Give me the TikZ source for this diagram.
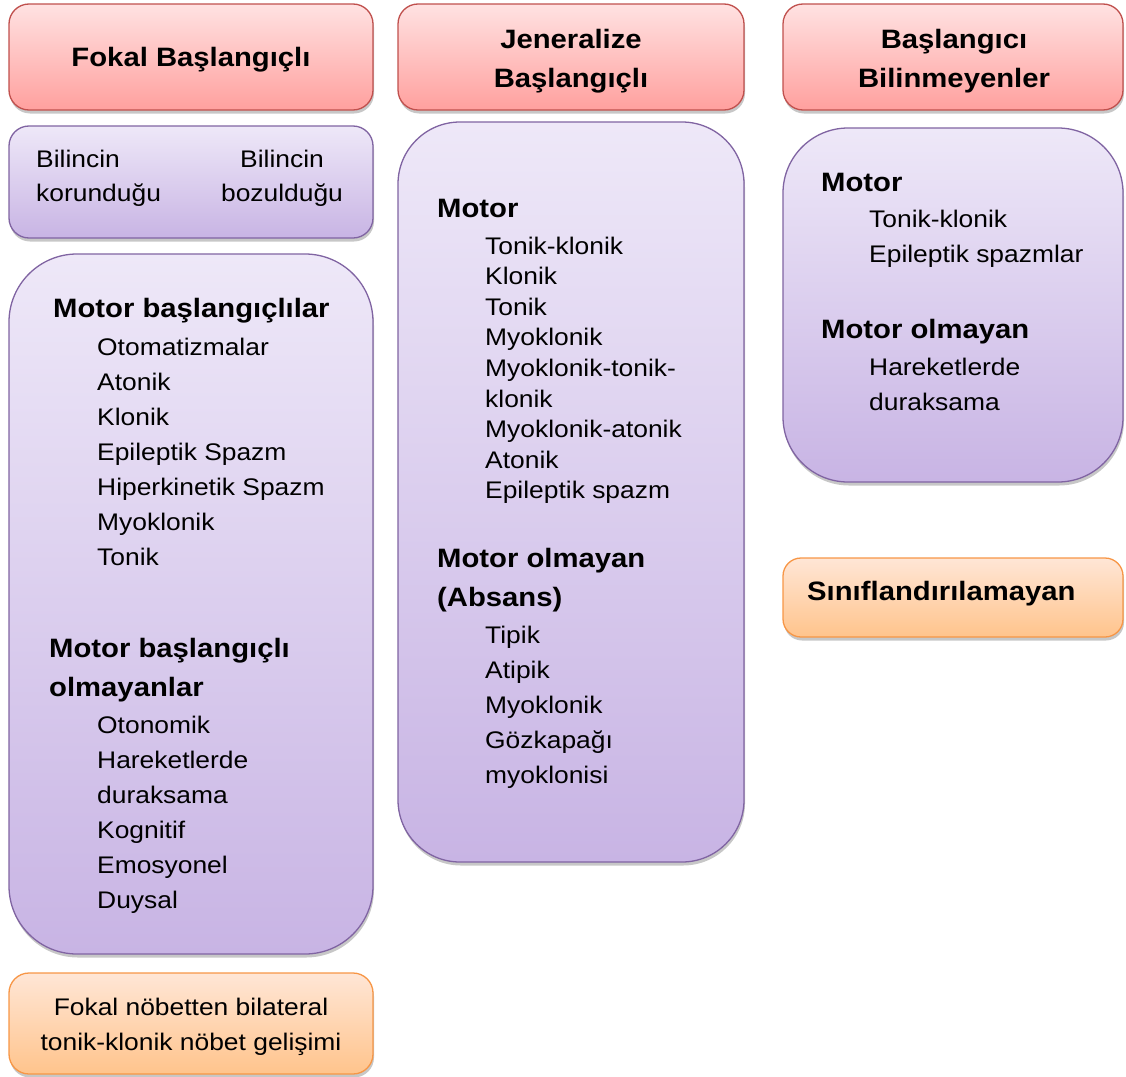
\documentclass[tikz,border=0pt]{standalone}
\usepackage{fontspec}
\setmainfont{Liberation Sans}[FakeStretch=1.1]
\usetikzlibrary{shadows}
\definecolor{redtop}{RGB}{255,226,226}
\definecolor{redbot}{RGB}{255,160,158}
\definecolor{redline}{RGB}{192,80,77}
\definecolor{purtop}{RGB}{238,232,248}
\definecolor{purbot}{RGB}{200,180,228}
\definecolor{purline}{RGB}{128,100,162}
\definecolor{orgtop}{RGB}{255,230,214}
\definecolor{orgbot}{RGB}{255,196,140}
\definecolor{orgline}{RGB}{247,150,70}
\begin{document}
\begin{tikzpicture}[x=1pt,y=-1pt,
  boxbase/.style={inner sep=0pt, outer sep=0pt, line width=1.3pt,
    drop shadow={shadow xshift=1pt, shadow yshift=-3.5pt, opacity=0.22, fill=black}},
  redbox/.style={boxbase, draw=redline, top color=redtop, bottom color=redbot, rounded corners=20pt},
  orgbox/.style={boxbase, draw=orgline, top color=orgtop, bottom color=orgbot, rounded corners=20pt},
  purbox/.style={boxbase, draw=purline, top color=purtop, bottom color=purbot},
  itm/.style={anchor=base west, inner sep=0pt, font=\fontsize{24}{29}\selectfont},
  itc/.style={anchor=base, inner sep=0pt, font=\fontsize{24}{29}\selectfont},
  hd/.style={anchor=base west, inner sep=0pt, font=\fontsize{26.6}{32}\selectfont\bfseries},
  hdc/.style={anchor=base, inner sep=0pt, font=\fontsize{26.6}{32}\selectfont\bfseries}]
\useasboundingbox (0,0) rectangle (1126,1076);
% boxes
\node[redbox, minimum width=364pt, minimum height=106pt] (h1) at (191,57) {};
\node[redbox, minimum width=346pt, minimum height=106pt] (h2) at (571,57) {};
\node[redbox, minimum width=340pt, minimum height=106pt] (h3) at (953,57) {};
\node[purbox, rounded corners=20pt, minimum width=364pt, minimum height=112pt] (bil) at (191,182) {};
\node[purbox, rounded corners=68pt, minimum width=364pt, minimum height=700pt] (lbig) at (191,604) {};
\node[purbox, rounded corners=62pt, minimum width=346pt, minimum height=740pt] (mbig) at (571,492) {};
\node[purbox, rounded corners=65pt, minimum width=340pt, minimum height=354pt] (rbig) at (953,305) {};
\node[orgbox, rounded corners=18pt, minimum width=340pt, minimum height=79pt] (sinif) at (953,597.5) {};
\node[orgbox, minimum width=364pt, minimum height=101pt] (fokal) at (191,1023.5) {};
% header texts
\node[hdc] (t-h1) at (191,66) {Fokal Başlangıçlı};
\node[hdc] (t-h2a) at (571,48) {Jeneralize};
\node[hdc] (t-h2b) at (571,87) {Başlangıçlı};
\node[hdc] (t-h3a) at (954,48) {Başlangıcı};
\node[hdc] (t-h3b) at (954,87) {Bilinmeyenler};
% bilinc box
\node[itm] (b1) at (36,167) {Bilincin};
\node[itm] (b2) at (36,201) {korunduğu};
\node[itc] (b3) at (282,167) {Bilincin};
\node[itc] (b4) at (282,201) {bozulduğu};
% left big box
\node[hd] (l0) at (53,317) {Motor başlangıçlılar};
\node[itm] (l1) at (97,355) {Otomatizmalar};
\node[itm] (l2) at (97,390) {Atonik};
\node[itm] (l3) at (97,425) {Klonik};
\node[itm] (l4) at (97,460) {Epileptik Spazm};
\node[itm] (l5) at (97,495) {Hiperkinetik Spazm};
\node[itm] (l6) at (97,530) {Myoklonik};
\node[itm] (l7) at (97,565) {Tonik};
\node[hd] (l8) at (49,657) {Motor başlangıçlı};
\node[hd] (l9) at (49,696) {olmayanlar};
\node[itm] (l10) at (97,733) {Otonomik};
\node[itm] (l11) at (97,768) {Hareketlerde};
\node[itm] (l12) at (97,803) {duraksama};
\node[itm] (l13) at (97,838) {Kognitif};
\node[itm] (l14) at (97,873) {Emosyonel};
\node[itm] (l15) at (97,908) {Duysal};
% middle big box
\node[hd] (m0) at (437,217) {Motor};
\node[itm] (m1) at (485,254) {Tonik-klonik};
\node[itm] (m2) at (485,284.6) {Klonik};
\node[itm] (m3) at (485,315.2) {Tonik};
\node[itm] (m4) at (485,345.8) {Myoklonik};
\node[itm] (m5) at (485,376.4) {Myoklonik-tonik-};
\node[itm] (m6) at (485,407) {klonik};
\node[itm] (m7) at (485,437.6) {Myoklonik-atonik};
\node[itm] (m8) at (485,468.2) {Atonik};
\node[itm] (m9) at (485,498.8) {Epileptik spazm};
\node[hd] (m10) at (437,567) {Motor olmayan};
\node[hd] (m11) at (437,606) {(Absans)};
\node[itm] (m12) at (485,643) {Tipik};
\node[itm] (m13) at (485,678) {Atipik};
\node[itm] (m14) at (485,713) {Myoklonik};
\node[itm] (m15) at (485,748) {Gözkapağı};
\node[itm] (m16) at (485,783) {myoklonisi};
% right box
\node[hd] (r0) at (821,191) {Motor};
\node[itm] (r1) at (869,227) {Tonik-klonik};
\node[itm] (r2) at (869,262.5) {Epileptik spazmlar};
\node[hd] (r3) at (821,338.5) {Motor olmayan};
\node[itm] (r4) at (869,375) {Hareketlerde};
\node[itm] (r5) at (869,410) {duraksama};
% orange boxes
\node[hd] (s0) at (807,600) {Sınıflandırılamayan};
\node[itc] (f1) at (191,1015) {Fokal nöbetten bilateral};
\node[itc] (f2) at (191,1050) {tonik-klonik nöbet gelişimi};
\end{tikzpicture}
\end{document}
